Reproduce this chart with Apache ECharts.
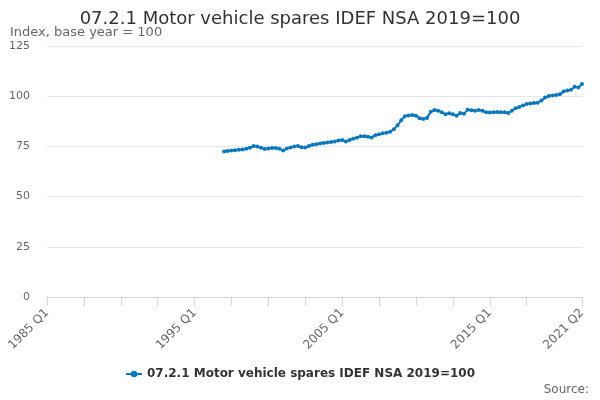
<!DOCTYPE html>
<html>
<head>
<meta charset="utf-8">
<script src="https://cdn.jsdelivr.net/npm/echarts@6/dist/echarts.min.js"></script>
<style>
  html, body { margin: 0; padding: 0; background: #fff; }
  #main { width: 600px; height: 400px; }
</style>
</head>
<body>
<div id="main"></div>
<script>
// quarters shown on the axis
var firstYear = 1985;
var lastYear = 2021;
var lastQuarter = 2;
var quarters = [];
for (var y = firstYear; y <= lastYear; y++) {
    for (var q = 1; q <= 4; q++) {
        if (y === lastYear && q > lastQuarter) break;
        quarters.push(y + ' Q' + q);
    }
}

// series starts at 1997 Q1
var seriesStart = '1997 Q1';
var seriesName = '07.2.1 Motor vehicle spares IDEF NSA 2019=100';
var indexValues = [
    72.5, 72.7, 72.9, 73.1, 73.3, 73.5, 73.8, 74.3, 75.2, 75.0,
    74.3, 73.7, 74.0, 74.2, 74.2, 73.8, 72.9, 73.9, 74.5, 75.0,
    75.2, 74.6, 74.4, 75.2, 75.8, 76.1, 76.4, 76.7, 76.9, 77.2,
    77.5, 77.9, 78.2, 77.4, 78.2, 78.8, 79.3, 80.0, 80.1, 79.8,
    79.4, 80.6, 81.0, 81.5, 81.8, 82.3, 83.5, 85.5, 88.0, 90.0,
    90.4, 90.6, 90.3, 89.0, 88.6, 89.2, 92.2, 93.1, 92.8, 92.0,
    91.0, 91.5, 91.0, 90.3, 91.6, 91.2, 93.2, 93.0, 92.8, 93.1,
    92.7, 92.0, 91.9, 92.0, 92.1, 92.0, 92.0, 91.6, 92.8, 94.0,
    94.6, 95.4, 96.1, 96.4, 96.6, 96.8, 97.8, 99.3, 100.1, 100.3,
    100.6, 101.0, 102.3, 102.8, 103.2, 104.7, 104.3, 106.1
];

var lastIdx = quarters.length - 1;
var startIdx = quarters.indexOf(seriesStart);
var lineData = quarters.map(function (c, i) {
    return i < startIdx ? null : indexValues[i - startIdx];
});

var myChart = echarts.init(document.getElementById('main'));

var option = {
    backgroundColor: '#fff',
    textStyle: { fontFamily: 'DejaVu Sans' },
    animation: false,
    title: [{
        text: seriesName,
        left: 'center',
        top: 5,
        textStyle: { fontSize: 18, fontWeight: 'normal', color: '#333' }
    }, {
        text: 'Index, base year = 100',
        left: 5,
        top: 21,
        textStyle: { fontSize: 13, fontWeight: 'normal', color: '#666' }
    }, {
        text: 'Source:',
        right: 6,
        top: 379,
        textStyle: { fontSize: 12, fontWeight: 'normal', color: '#666' }
    }],
    legend: {
        bottom: 15,
        left: 'center',
        itemWidth: 16,
        itemHeight: 8,
        data: [seriesName],
        textStyle: { fontSize: 12, fontWeight: 'bold', color: '#333' }
    },
    grid: { left: 47, right: 18, top: 46, bottom: 103 },
    xAxis: {
        type: 'category',
        data: quarters,
        boundaryGap: false,
        axisLine: { lineStyle: { color: '#ccd6eb' } },
        axisTick: {
            length: 9,
            lineStyle: { color: '#ccd6eb' },
            interval: function (i) { return (i % 10 === 0 && i <= 130) || i === lastIdx; }
        },
        axisLabel: {
            rotate: 45,
            color: '#666',
            fontSize: 12,
            margin: 14,
            interval: function (i) { return i % 40 === 0 || i === lastIdx; }
        },
        splitLine: { show: false }
    },
    yAxis: {
        type: 'value',
        min: 0,
        max: 125,
        interval: 25,
        axisLine: { show: false },
        axisTick: { show: false },
        axisLabel: { color: '#666', fontSize: 11, margin: 17 },
        splitLine: { lineStyle: { color: '#e6e6e6' } }
    },
    series: [{
        name: seriesName,
        type: 'line',
        data: lineData,
        color: '#0a77bd',
        symbol: 'circle',
        symbolSize: 4,
        showSymbol: true,
        showAllSymbol: true,
        lineStyle: { width: 2 },
        connectNulls: false
    }]
};

myChart.setOption(option);
</script>
</body>
</html>
